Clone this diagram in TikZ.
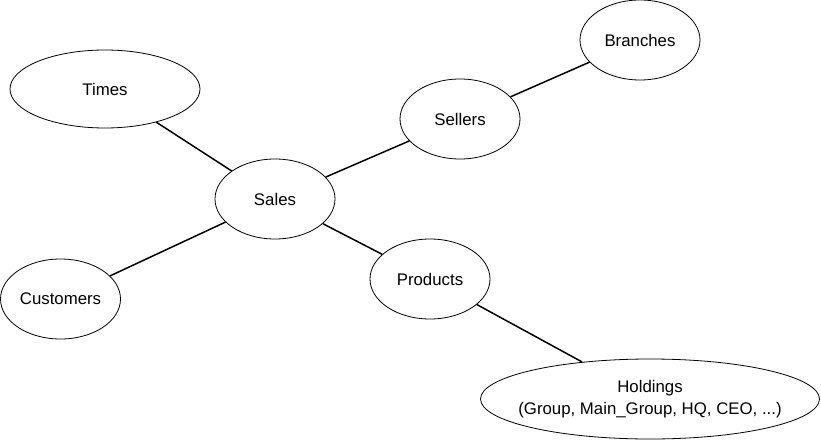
\documentclass[tikz,border=0pt]{standalone}
\usepackage{fontspec}
\setmainfont{Liberation Sans}
\usetikzlibrary{shapes.geometric}
\pgfdeclarelayer{edgelayer}
\pgfdeclarelayer{nodelayer}
\pgfsetlayers{edgelayer,nodelayer,main}
\tikzstyle{edge}=[draw=black, line width=1.5pt]
\tikzstyle{entity}=[ellipse, fill=white, draw=black, line width=0.8pt, inner sep=0pt, minimum width=120pt, minimum height=80pt, align=center, font=\fontsize{16.8}{21.5}\selectfont]
\tikzstyle{wide}=[minimum width=190pt, minimum height=78pt]

\begin{document}
\begin{tikzpicture}[x=1pt, y=-1pt]
				\useasboundingbox (0, 0) rectangle (821, 441);
				\begin{pgfonlayer}{nodelayer}
					\node [style=entity] (0) at (275, 199) {Sales};
					\node [style=entity, style=wide] (1) at (105, 89) {Times};
					\node [style=entity] (2) at (60.5, 299) {Customers};
					\node [style=entity] (3) at (460, 119) {Sellers};
					\node [style=entity] (4) at (640, 40) {Branches};
					\node [style=entity] (5) at (430, 279) {Products};
					\node [style=entity, inner xsep=-20pt, minimum width=339pt] (6) at (650, 399) {Holdings\\(Group, Main\_Group, HQ, CEO, ...)};
				\end{pgfonlayer}
				\begin{pgfonlayer}{edgelayer}
					\draw [style=edge] (1) to (0);
					\draw [style=edge] (2) to (0);
					\draw [style=edge] (0) to (3);
					\draw [style=edge] (3) to (4);
					\draw [style=edge] (0) to (5);
					\draw [style=edge] (5) to (6);
				\end{pgfonlayer}
			\end{tikzpicture}
\end{document}
